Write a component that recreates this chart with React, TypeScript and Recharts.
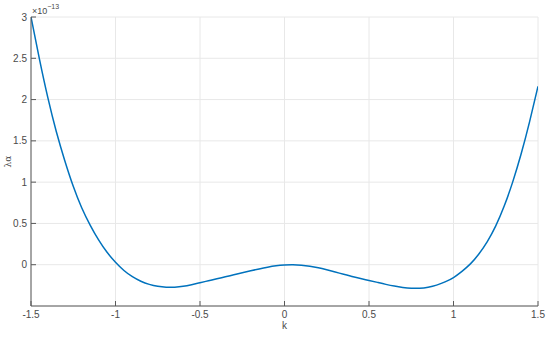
import React from "react";
import { LineChart, Line, XAxis, YAxis, CartesianGrid, Label } from "recharts";

const kValues = [
  -1.5, -1.45, -1.4, -1.35, -1.3, -1.25, -1.2, -1.15, -1.1, -1.05, -1.0,
  -0.95, -0.9, -0.85, -0.8, -0.75, -0.7, -0.65, -0.6, -0.55, -0.5,
  -0.45, -0.4, -0.35, -0.3, -0.25, -0.2, -0.15, -0.1, -0.05, 0,
  0.05, 0.1, 0.15, 0.2, 0.25, 0.3, 0.35, 0.4, 0.45, 0.5,
  0.55, 0.6, 0.65, 0.7, 0.75, 0.8, 0.85, 0.9, 0.95, 1.0,
  1.05, 1.1, 1.15, 1.2, 1.25, 1.3, 1.35, 1.4, 1.45, 1.5,
];

// lambda_alpha in units of 1e-13
const lambdaValues = [
  3.0, 2.49, 2.02, 1.61, 1.26, 0.95, 0.69, 0.48, 0.3, 0.15, 0.03,
  -0.07, -0.145, -0.2, -0.238, -0.262, -0.273, -0.272, -0.262, -0.242, -0.218,
  -0.194, -0.17, -0.146, -0.122, -0.098, -0.074, -0.051, -0.03, -0.013, -0.003,
  0.0, -0.006, -0.019, -0.038, -0.062, -0.088, -0.116, -0.142, -0.167, -0.19,
  -0.214, -0.238, -0.259, -0.275, -0.285, -0.285, -0.272, -0.247, -0.208, -0.155,
  -0.08, 0.01, 0.13, 0.28, 0.47, 0.71, 1.0, 1.34, 1.73, 2.16,
];

const xTicks = [-1.5, -1, -0.5, 0, 0.5, 1, 1.5];
const yTicks = [0, 0.5, 1, 1.5, 2, 2.5, 3];
const yGridTicks = [-0.5, 0, 0.5, 1, 1.5, 2, 2.5, 3];

const data = kValues.map((k, i) => ({ k, lambda: lambdaValues[i] }));

const AXIS = "#595959";
const LABEL = "#4a4a4a";
const FONT = "'Liberation Sans', Arial, Helvetica, sans-serif";

const fmt = (v: number) => String(v);

const BottomTick = (props: any) => {
  const { x, y, payload } = props;
  return (
    <g>
      <line x1={x} y1={y} x2={x} y2={y - 5} stroke={AXIS} strokeWidth={1} />
      <text x={x} y={y + 12} textAnchor="middle" fontSize={10} fill={LABEL} fontFamily={FONT}>
        {fmt(payload.value)}
      </text>
    </g>
  );
};

const TopTick = (props: any) => {
  const { x, y } = props;
  return <line x1={x} y1={y} x2={x} y2={y + 5} stroke={AXIS} strokeWidth={1} />;
};

const LeftTick = (props: any) => {
  const { x, y, payload } = props;
  return (
    <g>
      <line x1={x} y1={y} x2={x + 5} y2={y} stroke={AXIS} strokeWidth={1} />
      <text x={x - 4} y={y + 3.5} textAnchor="end" fontSize={10} fill={LABEL} fontFamily={FONT}>
        {fmt(payload.value)}
      </text>
    </g>
  );
};

const RightTick = (props: any) => {
  const { x, y } = props;
  return <line x1={x} y1={y} x2={x - 5} y2={y} stroke={AXIS} strokeWidth={1} />;
};

const YLabel = (props: any) => {
  const vb = props.viewBox || { x: 0, y: 17, width: 31, height: 289 };
  const cx = vb.x + 11;
  const cy = vb.y + vb.height / 2;
  return (
    <g>
      <text
        x={cx}
        y={cy}
        transform={`rotate(-90 ${cx} ${cy})`}
        textAnchor="middle"
        fontSize={9}
        fill={LABEL}
        fontFamily={"'DejaVu Serif', serif"}
      >
        λα
      </text>
      <text x={vb.x + vb.width + 1} y={vb.y - 3} fontSize={9} fill={LABEL} fontFamily={FONT}>
        ×10
        <tspan dy={-5} fontSize={7}>
          −13
        </tspan>
      </text>
    </g>
  );
};

const XLabel = (props: any) => {
  const vb = props.viewBox || { x: 31, y: 306, width: 507, height: 31 };
  return (
    <text x={vb.x + vb.width / 2} y={vb.y + 23} textAnchor="middle" fontSize={10} fill={LABEL} fontFamily={FONT}>
      k
    </text>
  );
};

export default function App() {
  return (
    <div style={{ position: "absolute", left: 0, top: 0, width: 550, height: 337, background: "#fff" }}>
      <LineChart width={550} height={337} data={data} margin={{ top: 17, right: 12, bottom: 0, left: 0 }}>
        <CartesianGrid
          stroke="#e8e8e8"
          strokeWidth={1}
          verticalValues={xTicks}
          horizontalValues={yGridTicks}
        />
        <XAxis
          dataKey="k"
          type="number"
          domain={[-1.5, 1.5]}
          ticks={xTicks}
          height={31}
          tickSize={0}
          tickMargin={0}
          tickLine={false}
          tick={<BottomTick />}
          axisLine={{ stroke: AXIS, strokeWidth: 1 }}
          interval={0}
          allowDataOverflow
        >
          <Label content={<XLabel />} />
        </XAxis>
        <XAxis
          xAxisId="top"
          dataKey="k"
          type="number"
          orientation="top"
          domain={[-1.5, 1.5]}
          ticks={xTicks}
          height={0}
          tickSize={0}
          tickMargin={0}
          tickLine={false}
          tick={<TopTick />}
          axisLine={{ stroke: AXIS, strokeWidth: 1 }}
          interval={0}
          allowDataOverflow
        />
        <YAxis
          type="number"
          domain={[-0.5, 3]}
          ticks={yTicks}
          width={31}
          tickSize={0}
          tickMargin={0}
          tickLine={false}
          tick={<LeftTick />}
          axisLine={{ stroke: AXIS, strokeWidth: 1 }}
          interval={0}
          allowDataOverflow
        >
          <Label content={<YLabel />} />
        </YAxis>
        <YAxis
          yAxisId="right"
          type="number"
          orientation="right"
          domain={[-0.5, 3]}
          ticks={yTicks}
          width={0}
          tickSize={0}
          tickMargin={0}
          tickLine={false}
          tick={<RightTick />}
          axisLine={{ stroke: AXIS, strokeWidth: 1 }}
          interval={0}
          allowDataOverflow
        />
        <Line
          type="natural"
          dataKey="lambda"
          stroke="#0072BD"
          strokeWidth={1.5}
          dot={false}
          isAnimationActive={false}
        />
      </LineChart>
    </div>
  );
}
